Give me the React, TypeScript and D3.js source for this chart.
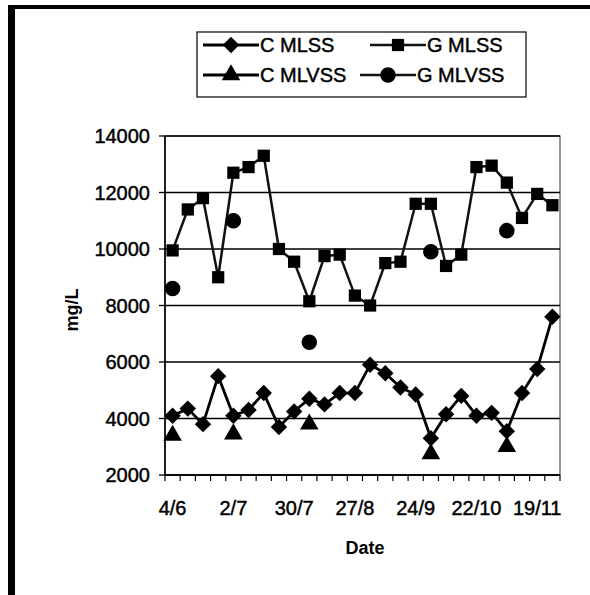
import React from 'react';
import * as d3 from 'd3';

// weekly sampling dates (category axis)
const dates = [
  '4/6', '11/6', '18/6', '25/6', '2/7', '9/7', '16/7', '23/7', '30/7', '6/8', '13/8', '20/8', '27/8',
  '3/9', '10/9', '17/9', '24/9', '1/10', '8/10', '15/10', '22/10', '29/10', '5/11', '12/11', '19/11', '26/11',
];
const labelledDates = ['4/6', '2/7', '30/7', '27/8', '24/9', '22/10', '19/11'];
const yTicks = [2000, 4000, 6000, 8000, 10000, 12000, 14000];

const cMLSS = [
  4100, 4350, 3800, 5500, 4100, 4300, 4900, 3700, 4250, 4700, 4500, 4900, 4900,
  5900, 5600, 5100, 4850, 3300, 4150, 4800, 4100, 4200, 3550, 4900, 5750, 7600,
];
const gMLSS = [
  9950, 11400, 11800, 9000, 12700, 12900, 13300, 10000, 9550, 8150, 9750, 9800, 8350,
  8000, 9500, 9550, 11600, 11600, 9400, 9800, 12900, 12950, 12350, 11100, 11950, 11550,
];
const cMLVSS: (number | null)[] = [
  3400, null, null, null, 3450, null, null, null, null, 3800, null, null, null,
  null, null, null, null, 2750, null, null, null, null, 3000, null, null, null,
];
const gMLVSS: (number | null)[] = [
  8600, null, null, null, 11000, null, null, null, null, 6700, null, null, null,
  null, null, null, null, 9900, null, null, null, null, 10650, null, null, null,
];

const FONT = '"Liberation Sans", Arial, sans-serif';

type MarkerKind = 'diamond' | 'square' | 'triangle' | 'circle';

const markerPath = (kind: MarkerKind) => {
  if (kind === 'diamond') return d3.symbol().type(d3.symbolSquare).size(135)()!;
  if (kind === 'square') return d3.symbol().type(d3.symbolSquare).size(150)()!;
  if (kind === 'triangle') return d3.symbol().type(d3.symbolTriangle).size(150)()!;
  return d3.symbol().type(d3.symbolCircle).size(190)()!;
};

const Marker = ({ kind, x, y }: { kind: MarkerKind; x: number; y: number }) => (
  <path
    d={markerPath(kind)}
    transform={`translate(${x},${y})${kind === 'diamond' ? ' rotate(45)' : ''}`}
    fill="#000"
  />
);

export default function App() {
  const width = 590;
  const height = 595;
  const plot = { left: 165, right: 560, top: 136, bottom: 475 };

  const x = d3.scaleBand<string>().domain(dates).range([plot.left, plot.right]).padding(0);
  const cx = (i: number) => (x(dates[i]) || 0) + x.bandwidth() / 2;
  const y = d3.scaleLinear().domain([2000, 14000]).range([plot.bottom, plot.top]);

  const line = d3
    .line<number | null>()
    .defined((d) => d != null)
    .x((_, i) => cx(i))
    .y((d) => y(d as number));

  const series = [
    { name: 'C MLSS', values: cMLSS as (number | null)[], marker: 'diamond' as MarkerKind, stroke: '#000', sw: 2.8 },
    { name: 'G MLSS', values: gMLSS as (number | null)[], marker: 'square' as MarkerKind, stroke: '#111', sw: 2.5 },
    { name: 'C MLVSS', values: cMLVSS, marker: 'triangle' as MarkerKind, stroke: '#000', sw: 2.8 },
    { name: 'G MLVSS', values: gMLVSS, marker: 'circle' as MarkerKind, stroke: '#111', sw: 2.5 },
  ];

  // category boundaries for tick marks
  const boundaries = dates.map((d) => x(d) || 0).concat([plot.right]);

  const legendItems = [
    { s: series[0], lx: 203, ty: 45 },
    { s: series[1], lx: 370, ty: 45 },
    { s: series[2], lx: 203, ty: 75 },
    { s: series[3], lx: 360, ty: 75 },
  ];

  // scanned print looks a little heavier than plain Arial
  const ink = { fill: '#000', stroke: '#000', strokeWidth: 0.45 };

  return (
    <svg
      width={width}
      height={height}
      style={{ position: 'absolute', left: 0, top: 0, background: '#fff' }}
      fontFamily={FONT}
    >
      <rect width={width} height={height} fill="#fff" />
      {/* scanned page frame */}
      <rect x={8} y={5} width={582} height={4} fill="#000" />
      <rect x={8} y={5} width={7} height={590} fill="#000" />

      {/* legend */}
      <rect x={197} y={32} width={329} height={65} fill="#fff" stroke="#000" strokeWidth={1.2} />
      {legendItems.map(({ s, lx, ty }) => (
        <g key={s.name}>
          <line x1={lx} x2={lx + 56} y1={ty} y2={ty} stroke={s.stroke} strokeWidth={s.sw} />
          <Marker kind={s.marker} x={lx + 28} y={ty} />
          <text x={lx + 57} y={ty} dy="0.36em" fontSize={20} {...ink}>
            {s.name}
          </text>
        </g>
      ))}

      {/* plot area */}
      <rect
        x={plot.left}
        y={plot.top}
        width={plot.right - plot.left}
        height={plot.bottom - plot.top}
        fill="none"
        stroke="#333"
        strokeWidth={1}
      />
      {yTicks.map((t) => (
        <g key={t}>
          <line x1={plot.left} x2={plot.right} y1={y(t)} y2={y(t)} stroke="#000" strokeWidth={1.3} />
          <line x1={plot.left - 6} x2={plot.left} y1={y(t)} y2={y(t)} stroke="#000" strokeWidth={1.3} />
          <text x={150} y={y(t)} dy="0.36em" textAnchor="end" fontSize={20} {...ink}>
            {t}
          </text>
        </g>
      ))}
      {/* axes */}
      <line x1={plot.left} x2={plot.left} y1={plot.top} y2={plot.bottom} stroke="#000" strokeWidth={1.6} />
      <line x1={plot.left} x2={plot.right} y1={plot.bottom} y2={plot.bottom} stroke="#000" strokeWidth={1.6} />
      {boundaries.map((bx, i) => (
        <line key={i} x1={bx} x2={bx} y1={plot.bottom} y2={plot.bottom + 6} stroke="#000" strokeWidth={1.2} />
      ))}
      {dates.map((d, i) =>
        labelledDates.includes(d) ? (
          <text key={d} x={cx(i)} y={515} textAnchor="middle" fontSize={20} {...ink}>
            {d}
          </text>
        ) : null
      )}

      {/* series */}
      {series.map((s) => (
        <g key={s.name}>
          <path d={line(s.values) || ''} fill="none" stroke={s.stroke} strokeWidth={s.sw} strokeLinejoin="round" />
          {s.values.map((v, i) =>
            v == null ? null : <Marker key={i} kind={s.marker} x={cx(i)} y={y(v)} />
          )}
        </g>
      ))}

      {/* axis titles */}
      <text x={365} y={554} textAnchor="middle" fontSize={18} fontWeight="bold" fill="#000">
        Date
      </text>
      <text
        transform="translate(78,310) rotate(-90)"
        textAnchor="middle"
        fontSize={18}
        fontWeight="bold"
        fill="#000"
      >
        mg/L
      </text>
    </svg>
  );
}
